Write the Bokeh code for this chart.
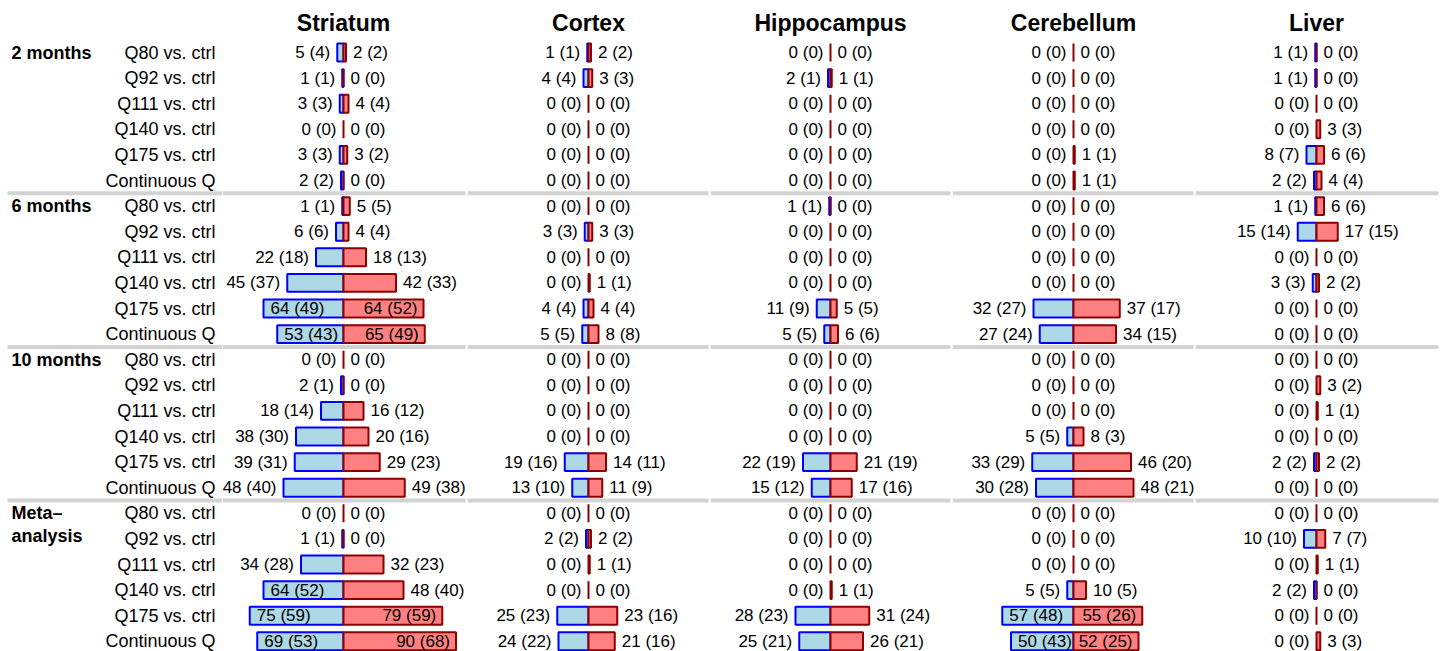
from bokeh.plotting import figure
from bokeh.models import ColumnDataSource, Range1d
from bokeh.layouts import row
from bokeh.core.properties import value
from bokeh.embed import file_html
from bokeh.resources import INLINE

# ---------------- data ----------------
groups = ["2 months", "6 months", "10 months", "Meta–analysis"]
comparisons = ["Q80 vs. ctrl", "Q92 vs. ctrl", "Q111 vs. ctrl",
               "Q140 vs. ctrl", "Q175 vs. ctrl", "Continuous Q"]
tissues = ["Striatum", "Cortex", "Hippocampus", "Cerebellum", "Liver"]

# down-regulated counts (blue, left) / up-regulated (red, right) and number in brackets
striatum_down = [5, 1, 3, 0, 3, 2, 1, 6, 22, 45, 64, 53, 0, 2, 18, 38, 39, 48, 0, 1, 34, 64, 75, 69]
striatum_down_b = [4, 1, 3, 0, 3, 2, 1, 6, 18, 37, 49, 43, 0, 1, 14, 30, 31, 40, 0, 1, 28, 52, 59, 53]
striatum_up = [2, 0, 4, 0, 3, 0, 5, 4, 18, 42, 64, 65, 0, 0, 16, 20, 29, 49, 0, 0, 32, 48, 79, 90]
striatum_up_b = [2, 0, 4, 0, 2, 0, 5, 4, 13, 33, 52, 49, 0, 0, 12, 16, 23, 38, 0, 0, 23, 40, 59, 68]

cortex_down = [1, 4, 0, 0, 0, 0, 0, 3, 0, 0, 4, 5, 0, 0, 0, 0, 19, 13, 0, 2, 0, 0, 25, 24]
cortex_down_b = [1, 4, 0, 0, 0, 0, 0, 3, 0, 0, 4, 5, 0, 0, 0, 0, 16, 10, 0, 2, 0, 0, 23, 22]
cortex_up = [2, 3, 0, 0, 0, 0, 0, 3, 0, 1, 4, 8, 0, 0, 0, 0, 14, 11, 0, 2, 1, 0, 23, 21]
cortex_up_b = [2, 3, 0, 0, 0, 0, 0, 3, 0, 1, 4, 8, 0, 0, 0, 0, 11, 9, 0, 2, 1, 0, 16, 16]

hippocampus_down = [0, 2, 0, 0, 0, 0, 1, 0, 0, 0, 11, 5, 0, 0, 0, 0, 22, 15, 0, 0, 0, 0, 28, 25]
hippocampus_down_b = [0, 1, 0, 0, 0, 0, 1, 0, 0, 0, 9, 5, 0, 0, 0, 0, 19, 12, 0, 0, 0, 0, 23, 21]
hippocampus_up = [0, 1, 0, 0, 0, 0, 0, 0, 0, 0, 5, 6, 0, 0, 0, 0, 21, 17, 0, 0, 0, 1, 31, 26]
hippocampus_up_b = [0, 1, 0, 0, 0, 0, 0, 0, 0, 0, 5, 6, 0, 0, 0, 0, 19, 16, 0, 0, 0, 1, 24, 21]

cerebellum_down = [0, 0, 0, 0, 0, 0, 0, 0, 0, 0, 32, 27, 0, 0, 0, 5, 33, 30, 0, 0, 0, 5, 57, 50]
cerebellum_down_b = [0, 0, 0, 0, 0, 0, 0, 0, 0, 0, 27, 24, 0, 0, 0, 5, 29, 28, 0, 0, 0, 5, 48, 43]
cerebellum_up = [0, 0, 0, 0, 1, 1, 0, 0, 0, 0, 37, 34, 0, 0, 0, 8, 46, 48, 0, 0, 0, 10, 55, 52]
cerebellum_up_b = [0, 0, 0, 0, 1, 1, 0, 0, 0, 0, 17, 15, 0, 0, 0, 3, 20, 21, 0, 0, 0, 5, 26, 25]

liver_down = [1, 1, 0, 0, 8, 2, 1, 15, 0, 3, 0, 0, 0, 0, 0, 0, 2, 0, 0, 10, 0, 2, 0, 0]
liver_down_b = [1, 1, 0, 0, 7, 2, 1, 14, 0, 3, 0, 0, 0, 0, 0, 0, 2, 0, 0, 10, 0, 2, 0, 0]
liver_up = [0, 0, 0, 3, 6, 4, 6, 17, 0, 2, 0, 0, 0, 3, 1, 0, 2, 0, 0, 7, 1, 0, 0, 3]
liver_up_b = [0, 0, 0, 3, 6, 4, 6, 15, 0, 2, 0, 0, 0, 2, 1, 0, 2, 0, 0, 7, 1, 0, 0, 3]

panel_data = {
    "Striatum": (striatum_down, striatum_down_b, striatum_up, striatum_up_b),
    "Cortex": (cortex_down, cortex_down_b, cortex_up, cortex_up_b),
    "Hippocampus": (hippocampus_down, hippocampus_down_b, hippocampus_up, hippocampus_up_b),
    "Cerebellum": (cerebellum_down, cerebellum_down_b, cerebellum_up, cerebellum_up_b),
    "Liver": (liver_down, liver_down_b, liver_up, liver_up_b),
}

# ---------------- style / layout ----------------
FONT = value("Liberation Sans")
H = 651
ROW_PX = 25.6
TOP = -52 / ROW_PX
YR = (TOP + H / ROW_PX, TOP)        # inverted: row 0 at top
PX_PER_UNIT = 1.25
LABEL_W = 222
PANEL_WIDTHS = [245, 243, 242, 243, 245]
CENTERS_PX = [121, 121, 120, 121, 121]
INSIDE_MIN = 50
SEP_COLOR = "#d3d3d3"

n_rows = len(groups) * len(comparisons)
rows_y = list(range(n_rows))
sep_y = [len(comparisons) * g - 0.5 for g in range(1, len(groups))]


def base_fig(width, x0, x1):
    p = figure(width=width, height=H, x_range=Range1d(x0, x1), y_range=Range1d(*YR),
               output_backend="svg", toolbar_location=None, min_border=0,
               min_border_left=0, min_border_right=0, min_border_top=0, min_border_bottom=0)
    p.axis.visible = False
    p.xgrid.visible = False
    p.ygrid.visible = False
    p.outline_line_color = None
    p.background_fill_color = "white"
    p.border_fill_color = "white"
    return p


# label column (x in pixels)
lab = base_fig(LABEL_W, 0, LABEL_W)
for sy in sep_y:
    lab.segment(x0=7, x1=LABEL_W, y0=sy, y1=sy, line_color=SEP_COLOR, line_width=4)
lab.text(x=[215] * n_rows, y=rows_y, text=comparisons * len(groups),
         text_align="right", text_baseline="middle", text_font=FONT,
         text_font_size="18px", text_color="black")
g_text, g_y = [], []
for gi, g in enumerate(groups):
    if "–" in g:
        a, b = g.split("–")
        g_text += [a + "–", b]
        g_y += [gi * len(comparisons), gi * len(comparisons) + 0.9]
    else:
        g_text.append(g)
        g_y.append(gi * len(comparisons))
lab.text(x=[11] * len(g_text), y=g_y, text=g_text, text_align="left", text_baseline="middle",
         text_font=FONT, text_font_size="18px", text_font_style="bold", text_color="black")


def sub(idx, **cols):
    return ColumnDataSource({k: [v[i] for i in idx] for k, v in cols.items()})


figs = [lab]
for ti, t in enumerate(tissues):
    down, down_b, up, up_b = panel_data[t]
    w = PANEL_WIDTHS[ti]
    c = CENTERS_PX[ti]
    x0 = -c / PX_PER_UNIT
    x1 = (w - c) / PX_PER_UNIT
    p = base_fig(w, x0, x1)
    for sy in sep_y:
        p.segment(x0=x0, x1=x1 - 2 / PX_PER_UNIT, y0=sy, y1=sy, line_color=SEP_COLOR, line_width=4)

    negx = [-v for v in down]
    zero = [0] * n_rows
    nz_down = [i for i in range(n_rows) if down[i] > 0]
    p.hbar(y="y", left="neg", right="zero", height=0.7,
           source=sub(nz_down, y=rows_y, neg=negx, zero=zero),
           fill_color="#add8e6", line_color="#0000ff", line_width=2)
    p.hbar(y="y", left="zero", right="pos", height=0.7,
           source=sub(range(n_rows), y=rows_y, pos=up, zero=zero),
           fill_color="#ff8080", line_color="#8b0000", line_width=2)

    dl = [f"{a} ({b})" for a, b in zip(down, down_b)]
    ul = [f"{a} ({b})" for a, b in zip(up, up_b)]
    d_in = [i for i in range(n_rows) if down[i] >= INSIDE_MIN]
    d_out = [i for i in range(n_rows) if down[i] < INSIDE_MIN]
    u_in = [i for i in range(n_rows) if up[i] >= INSIDE_MIN]
    u_out = [i for i in range(n_rows) if up[i] < INSIDE_MIN]
    common = dict(x="x", y="y", text="t", text_baseline="middle", text_font=FONT,
                  text_font_size="17px", text_color="black")
    p.text(source=sub(d_out, x=negx, y=rows_y, t=dl), text_align="right", x_offset=-7, **common)
    p.text(source=sub(d_in, x=negx, y=rows_y, t=dl), text_align="left", x_offset=7, **common)
    p.text(source=sub(u_out, x=up, y=rows_y, t=ul), text_align="left", x_offset=7, **common)
    p.text(source=sub(u_in, x=up, y=rows_y, t=ul), text_align="right", x_offset=-6, **common)

    p.text(x=[0], y=[-1.17], text=[t], text_align="center", text_baseline="middle",
           text_font=FONT, text_font_size="23px", text_font_style="bold", text_color="black")
    figs.append(p)

layout = row(*figs, spacing=0)
open("out.html", "w").write(file_html(layout, INLINE))
